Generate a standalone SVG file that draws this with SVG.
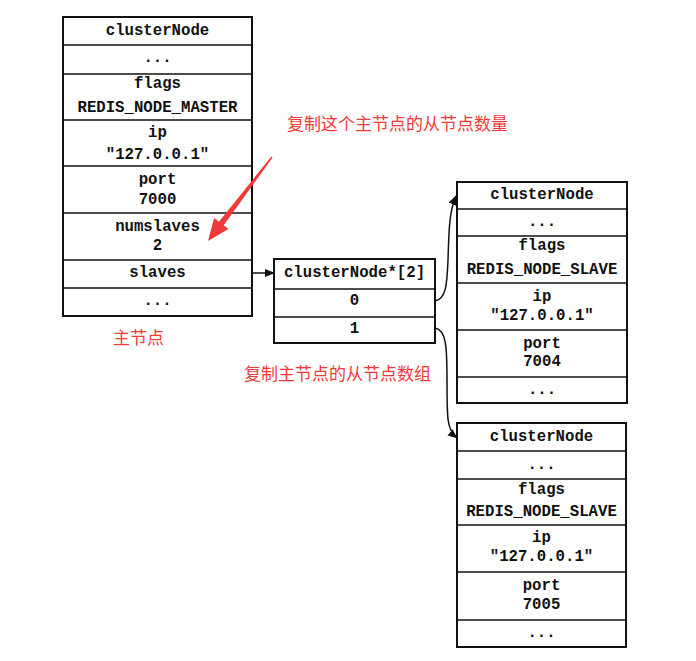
<svg xmlns="http://www.w3.org/2000/svg" width="696" height="661" viewBox="0 0 696 661">
<style>
.box{fill:#fff;stroke:#111;stroke-width:2}
.sep{stroke:#111;stroke-width:1.6}
.t{font-family:"Liberation Mono","DejaVu Sans Mono",monospace;font-weight:bold;font-size:15.7px;fill:#111;text-anchor:middle;dominant-baseline:central}
.r{font-family:"Noto Sans CJK SC",sans-serif;font-size:17px;fill:#f03a3a;dominant-baseline:central}
.c{fill:none;stroke:#111;stroke-width:1.5}
</style>
<defs>
<marker id="ah" markerWidth="10" markerHeight="8" refX="9" refY="4" orient="auto" markerUnits="userSpaceOnUse">
<path d="M0,0 L10,4 L0,8 Z" fill="#111"/>
</marker>
</defs>
<rect width="696" height="661" fill="#fff"/>
<g id="master">
<rect class="box" x="63" y="17" width="189" height="299"/>
<line class="sep" x1="63" y1="45" x2="252" y2="45"/>
<line class="sep" x1="63" y1="74" x2="252" y2="74"/>
<line class="sep" x1="63" y1="120" x2="252" y2="120"/>
<line class="sep" x1="63" y1="166" x2="252" y2="166"/>
<line class="sep" x1="63" y1="213" x2="252" y2="213"/>
<line class="sep" x1="63" y1="260" x2="252" y2="260"/>
<line class="sep" x1="63" y1="288" x2="252" y2="288"/>
<text class="t" x="157.5" y="31">clusterNode</text>
<text class="t" x="157.5" y="58">...</text>
<text class="t" x="157.5" y="84">flags</text>
<text class="t" x="157.5" y="108">REDIS_NODE_MASTER</text>
<text class="t" x="157.5" y="133">ip</text>
<text class="t" x="157.5" y="155">"127.0.0.1"</text>
<text class="t" x="157.5" y="180">port</text>
<text class="t" x="157.5" y="200">7000</text>
<text class="t" x="157.5" y="227">numslaves</text>
<text class="t" x="157.5" y="246">2</text>
<text class="t" x="157.5" y="273">slaves</text>
<text class="t" x="157.5" y="301">...</text>
</g>
<g id="array">
<rect class="box" x="274" y="259" width="161" height="84"/>
<line class="sep" x1="274" y1="289" x2="435" y2="289"/>
<line class="sep" x1="274" y1="317" x2="435" y2="317"/>
<text class="t" x="354.5" y="273">clusterNode*[2]</text>
<text class="t" x="354.5" y="301">0</text>
<text class="t" x="354.5" y="329">1</text>
</g>
<g id="slave1">
<rect class="box" x="457" y="182" width="170" height="221"/>
<line class="sep" x1="457" y1="209" x2="627" y2="209"/>
<line class="sep" x1="457" y1="236" x2="627" y2="236"/>
<line class="sep" x1="457" y1="283" x2="627" y2="283"/>
<line class="sep" x1="457" y1="330" x2="627" y2="330"/>
<line class="sep" x1="457" y1="377" x2="627" y2="377"/>
<text class="t" x="542" y="195">clusterNode</text>
<text class="t" x="542" y="222">...</text>
<text class="t" x="542" y="246">flags</text>
<text class="t" x="542" y="270">REDIS_NODE_SLAVE</text>
<text class="t" x="542" y="297">ip</text>
<text class="t" x="542" y="316">"127.0.0.1"</text>
<text class="t" x="542" y="344">port</text>
<text class="t" x="542" y="362">7004</text>
<text class="t" x="542" y="390">...</text>
</g>
<g id="slave2">
<rect class="box" x="457" y="423" width="169" height="224"/>
<line class="sep" x1="457" y1="451" x2="626" y2="451"/>
<line class="sep" x1="457" y1="479" x2="626" y2="479"/>
<line class="sep" x1="457" y1="525" x2="626" y2="525"/>
<line class="sep" x1="457" y1="572" x2="626" y2="572"/>
<line class="sep" x1="457" y1="620" x2="626" y2="620"/>
<text class="t" x="541.5" y="437">clusterNode</text>
<text class="t" x="541.5" y="465">...</text>
<text class="t" x="541.5" y="490">flags</text>
<text class="t" x="541.5" y="512">REDIS_NODE_SLAVE</text>
<text class="t" x="541.5" y="538">ip</text>
<text class="t" x="541.5" y="557">"127.0.0.1"</text>
<text class="t" x="541.5" y="586">port</text>
<text class="t" x="541.5" y="605">7005</text>
<text class="t" x="541.5" y="633">...</text>
</g>
<g id="connectors">
<path class="c" d="M252,273 L274,273" marker-end="url(#ah)"/>
<path class="c" d="M435,301 C446,299 447,285 448,260 C449,230 449,212 456,196" marker-end="url(#ah)"/>
<path class="c" d="M435,328 C446,330 447,345 447,380 C447,420 447,430 457,438" marker-end="url(#ah)"/>
</g>
<g id="annotations">
<polygon fill="#f03a3a" points="271.4,156.5 218.9,221.7 214.1,218 208,241 228.5,229 223.7,225.3 272.6,157.5"/>
<text class="r" x="287" y="122">复制这个主节点的从节点数量</text>
<text class="r" x="113" y="336">主节点</text>
<text class="r" x="244" y="372">复制主节点的从节点数组</text>
</g>
</svg>
